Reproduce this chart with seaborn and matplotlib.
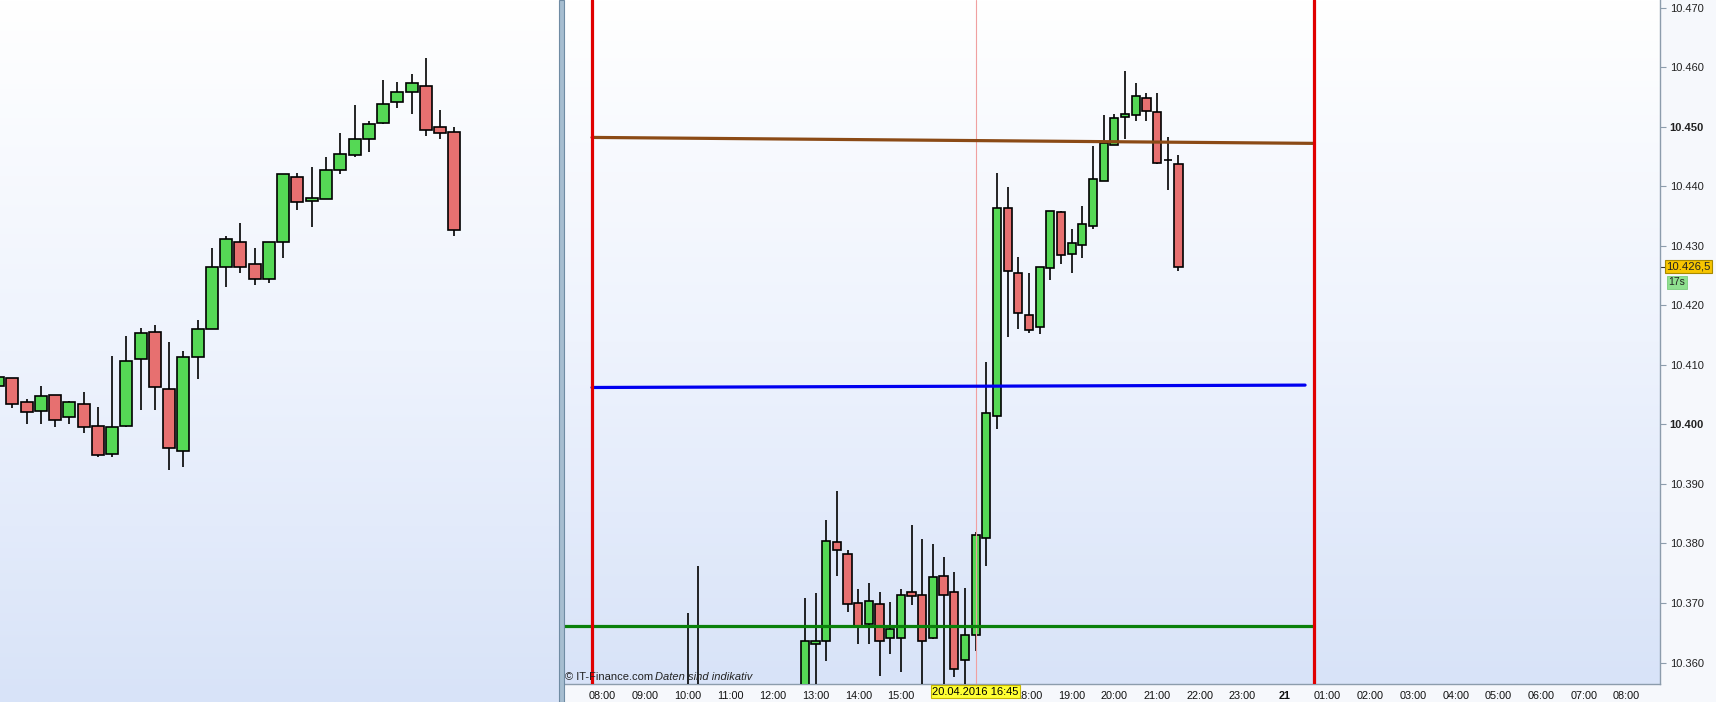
import numpy as np
import matplotlib
matplotlib.use("Agg")
import matplotlib.pyplot as plt
import matplotlib.transforms as mtransforms
from matplotlib.colors import LinearSegmentedColormap
from matplotlib.patches import Rectangle
import seaborn as sns

# ---------------- data ----------------
# right panel: 15-minute candles on 20.04.2016 (hours since midnight)
times = [10.0, 10.25, 12.75, 13.0, 13.25, 13.5, 13.75, 14.0, 14.25, 14.5, 14.75,
         15.0, 15.25, 15.5, 15.75, 16.0, 16.25, 16.5, 16.75, 17.0, 17.25, 17.5,
         17.75, 18.0, 18.25, 18.5, 18.75, 19.0, 19.25, 19.5, 19.75, 20.0, 20.25,
         20.5, 20.75, 21.0, 21.25, 21.5]
opens = [10.3500, 10.3510, 10.3520, 10.3631, 10.3636, 10.3802, 10.3783, 10.3700,
         10.3665, 10.3698, 10.3641, 10.3642, 10.3718, 10.3713, 10.3642, 10.3746,
         10.3718, 10.3604, 10.3646, 10.3810, 10.4014, 10.4363, 10.4254, 10.4183,
         10.4163, 10.4262, 10.4356, 10.4286, 10.4301, 10.4333, 10.4408, 10.4469,
         10.4516, 10.4519, 10.4549, 10.4524, 10.4444, 10.4438]
highs = [10.3684, 10.3763, 10.3709, 10.3717, 10.3839, 10.3888, 10.3789, 10.3723,
         10.3733, 10.3718, 10.3702, 10.3723, 10.3831, 10.3808, 10.3799, 10.3777,
         10.3752, 10.3726, 10.3820, 10.4104, 10.4422, 10.4399, 10.4281, 10.4254,
         10.4264, 10.4358, 10.4358, 10.4328, 10.4366, 10.4467, 10.4519, 10.4521,
         10.4593, 10.4573, 10.4556, 10.4556, 10.4482, 10.4453]
lows = [10.3450, 10.3450, 10.3500, 10.3540, 10.3603, 10.3746, 10.3685, 10.3632,
        10.3632, 10.3578, 10.3615, 10.3584, 10.3697, 10.3540, 10.3640, 10.3545,
        10.3575, 10.3550, 10.3620, 10.3763, 10.3993, 10.4146, 10.4161, 10.4153,
        10.4151, 10.4242, 10.4269, 10.4254, 10.4279, 10.4328, 10.4408, 10.4469,
        10.4479, 10.4509, 10.4509, 10.4437, 10.4393, 10.4257]
closes = [10.3510, 10.3500, 10.3636, 10.3637, 10.3804, 10.3789, 10.3698, 10.3662,
          10.3703, 10.3637, 10.3656, 10.3713, 10.3711, 10.3637, 10.3743, 10.3713,
          10.3589, 10.3647, 10.3814, 10.4019, 10.4363, 10.4258, 10.4187, 10.4158,
          10.4264, 10.4358, 10.4284, 10.4304, 10.4336, 10.4413, 10.4472, 10.4514,
          10.4521, 10.4551, 10.4526, 10.4439, 10.4444, 10.4265]

# left panel: earlier candles (bar index)
left_idx = list(range(33))
left_open = [10.4064, 10.4078, 10.4037, 10.4022, 10.4049, 10.4012, 10.4034, 10.3997,
             10.3950, 10.3997, 10.4109, 10.4156, 10.4059, 10.3955, 10.4114, 10.4160,
             10.4265, 10.4307, 10.4269, 10.4245, 10.4307, 10.4415, 10.4375, 10.4378,
             10.4427, 10.4452, 10.4480, 10.4506, 10.4541, 10.4559, 10.4568, 10.4499,
             10.4491]
left_high = [10.4080, 10.4078, 10.4042, 10.4064, 10.4049, 10.4040, 10.4054, 10.4029,
             10.4115, 10.4149, 10.4162, 10.4167, 10.4138, 10.4123, 10.4176, 10.4296,
             10.4316, 10.4339, 10.4296, 10.4306, 10.4420, 10.4423, 10.4433, 10.4449,
             10.4489, 10.4536, 10.4509, 10.4578, 10.4575, 10.4588, 10.4615, 10.4528,
             10.4499]
left_low = [10.4064, 10.4028, 10.4000, 10.4000, 10.3995, 10.4000, 10.3985, 10.3945,
            10.3945, 10.3995, 10.4024, 10.4024, 10.3924, 10.3929, 10.4077, 10.4160,
            10.4231, 10.4255, 10.4234, 10.4237, 10.4280, 10.4360, 10.4331, 10.4378,
            10.4420, 10.4449, 10.4457, 10.4504, 10.4531, 10.4522, 10.4484, 10.4479,
            10.4316]
left_close = [10.4080, 10.4034, 10.4020, 10.4047, 10.4007, 10.4037, 10.3995, 10.3948,
              10.3995, 10.4106, 10.4153, 10.4062, 10.3960, 10.4113, 10.4161, 10.4264,
              10.4311, 10.4265, 10.4244, 10.4306, 10.4420, 10.4373, 10.4380, 10.4428,
              10.4454, 10.4479, 10.4504, 10.4538, 10.4558, 10.4573, 10.4494, 10.4489,
              10.4326]

# level lines (x in hours, y in price)
brown_x, brown_y = [7.759, 24.68], [10.4482, 10.4472]
blue_x, blue_y = [7.759, 24.47], [10.4062, 10.4066]
green_x, green_y = [7.079, 24.68], [10.3662, 10.3662]
session_bounds = [7.759, 24.68]
cursor_time = 16.75
cursor_label = "20.04.2016 16:45"
last_price = 10.4265
last_price_label = "10.426,5"
timer_label = "17s"

hour_ticks = list(range(8, 33))
hidden_hours = [16, 17]          # covered by the cursor label in the reference
hour_labels = ["" if h in hidden_hours else ("21" if h == 24 else f"{h % 24:02d}:00")
               for h in hour_ticks]
price_ticks = [10.36, 10.37, 10.38, 10.39, 10.40, 10.41, 10.42, 10.43, 10.44,
               10.45, 10.46, 10.47]
price_labels = [f"{p:.3f}" for p in price_ticks]

# ---------------- style ----------------
sns.set_style("white")
plt.rcParams['font.family'] = ['Liberation Sans', 'DejaVu Sans']

GREEN = '#55d855'
RED = '#e77070'
W, H = 1716, 702
fig = plt.figure(figsize=(W / 100, H / 100), dpi=100, facecolor='#f6f8fc')

ax_l = fig.add_axes([0, 0, 559 / W, 1])
ax_r = fig.add_axes([563 / W, 18 / H, 1097 / W, 684 / H])

bg_cmap = LinearSegmentedColormap.from_list('bg', ['#d8e3f8', '#eef3fd', '#ffffff'])


def gradient(ax):
    grad = np.linspace(0, 1, 256).reshape(-1, 1)
    ax.imshow(grad, cmap=bg_cmap, origin='lower', extent=(0, 1, 0, 1),
              transform=ax.transAxes, aspect='auto', zorder=0, interpolation='bilinear')


def candles(ax, x, o, h, l, c, width, lw):
    o, h, l, c = map(np.asarray, (o, h, l, c))
    ax.vlines(x, l, h, color='black', lw=lw, zorder=3)
    cols = np.where(c > o, GREEN, np.where(c < o, RED, 'black'))
    ax.bar(x, np.abs(c - o), width, bottom=np.minimum(o, c), color=cols,
           edgecolor='black', linewidth=lw, zorder=4)


# ---------------- left panel ----------------
gradient(ax_l)
candles(ax_l, left_idx, left_open, left_high, left_low, left_close, 0.84, 1.2)
ax_l.set_xlim(0.137, 39.34)
ax_l.set_ylim(10.35337, 10.47128)
ax_l.set_xticks([]); ax_l.set_yticks([])
for s in ax_l.spines.values():
    s.set_visible(False)

# ---------------- right panel ----------------
gradient(ax_r)
candles(ax_r, times, opens, highs, lows, closes, 0.195, 1.2)

sns.lineplot(x=brown_x, y=brown_y, ax=ax_r, color='#8b4a16', lw=2.3, zorder=6, estimator=None)
sns.lineplot(x=blue_x, y=blue_y, ax=ax_r, color='#0000f0', lw=2.3, zorder=6, estimator=None)
sns.lineplot(x=green_x, y=green_y, ax=ax_r, color='#0a800a', lw=2.3, zorder=6, estimator=None)
for xb in session_bounds:
    ax_r.axvline(xb, color='#e00000', lw=2.3, zorder=7)
ax_r.axvline(cursor_time, color='#f0a0a0', lw=0.8, zorder=5)

ax_r.set_xlim(7.079, 32.788)
ax_r.set_ylim(10.3564, 10.47128)

ax_r.set_xticks(hour_ticks)
ax_r.set_xticklabels(hour_labels)
for lbl in ax_r.get_xticklabels():
    if lbl.get_text() == "21":
        lbl.set_fontweight('bold'); lbl.set_fontsize(9.5)
ax_r.yaxis.tick_right()
ax_r.set_yticks(price_ticks)
ax_r.set_yticklabels(price_labels)
for lbl in ax_r.get_yticklabels():
    if lbl.get_text() in ("10.450", "10.400"):
        lbl.set_fontweight('bold'); lbl.set_fontsize(9)
ax_r.set_yticks([last_price], minor=True)
ax_r.tick_params(axis='x', which='major', direction='out', length=3, width=0.8,
                 color='#8c9cac', labelsize=7.8, pad=2, labelcolor='#111111')
ax_r.tick_params(axis='y', which='both', direction='out', length=4, width=0.8,
                 color='#8c9cac', labelsize=8, pad=3, labelcolor='#222222')
ax_r.tick_params(axis='y', which='minor', labelright=False, color='#333333')
for side in ('left', 'top'):
    ax_r.spines[side].set_visible(False)
for side in ('right', 'bottom'):
    ax_r.spines[side].set_color('#8c9cac')
    ax_r.spines[side].set_linewidth(1.0)

blend_xd = mtransforms.blended_transform_factory(ax_r.transData, ax_r.transAxes)
ax_r.text(cursor_time, -0.004, cursor_label, transform=blend_xd, ha='center', va='top',
          fontsize=8, color='black', zorder=20, clip_on=False,
          bbox=dict(boxstyle='square,pad=0.12', fc='#ffff33', ec='#c8b800', lw=0.8))

blend_ad = mtransforms.blended_transform_factory(ax_r.transAxes, ax_r.transData)
ax_r.text(1.0055, last_price, last_price_label, transform=blend_ad, ha='left', va='center',
          fontsize=8.2, color='#222222', zorder=20, clip_on=False,
          bbox=dict(boxstyle='square,pad=0.12', fc='#f7c500', ec='#a88a00', lw=0.8))
ax_r.text(1.0075, last_price - 0.0026, timer_label, transform=blend_ad, ha='left', va='center',
          fontsize=7.5, color='#222222', zorder=20, clip_on=False,
          bbox=dict(boxstyle='square,pad=0.15', fc='#8fe08f', ec='#7acc7a', lw=0.6))

ax_r.text(0.002, 0.006, "\u00a9 IT-Finance.com", transform=ax_r.transAxes, ha='left',
          va='baseline', fontsize=8, color='#222222', zorder=8)
ax_r.text(0.0839, 0.006, "Daten sind indikativ", transform=ax_r.transAxes, ha='left',
          va='baseline', fontsize=8, style='italic', color='#222222', zorder=8)

# separator between panels
fig.add_artist(Rectangle((559 / W, 0), 5 / W, 1, transform=fig.transFigure,
                         fc='#a6bdd0', ec='#6f8ba3', lw=0.8, zorder=30))

fig.savefig("out.png", dpi=100, facecolor=fig.get_facecolor())
